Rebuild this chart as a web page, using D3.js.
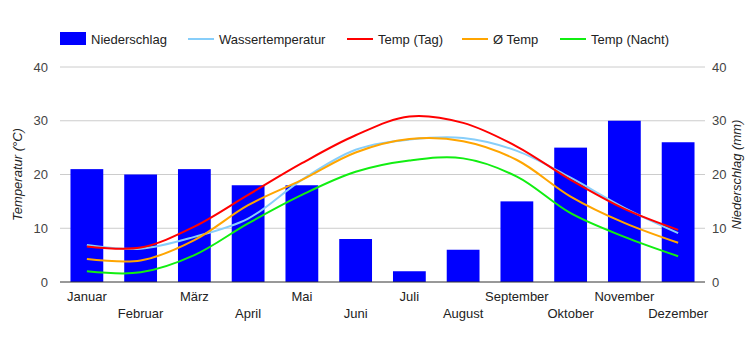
<!DOCTYPE html>
<html>
<head>
<meta charset="utf-8">
<script src="https://cdn.jsdelivr.net/npm/d3@7"></script>
<style>
  body { margin: 0; background: #fff; }
  text { font-family: "Liberation Sans", Arial, sans-serif; }
</style>
</head>
<body>
<div id="chart"></div>
<script>
// data
const months = ["Januar", "Februar", "März", "April", "Mai", "Juni", "Juli", "August", "September", "Oktober", "November", "Dezember"];
const niederschlag = [21, 20, 21, 18, 18, 8, 2, 6, 15, 25, 30, 26];
const wassertemp = [6.9, 6.2, 8.4, 11.8, 19.0, 24.6, 26.5, 26.8, 24.4, 19.4, 13.8, 9.1];
const tempTag = [6.6, 6.4, 10.3, 16.2, 22.1, 27.3, 30.8, 29.6, 25.2, 19.0, 13.6, 9.7];
const tempMittel = [4.3, 4.0, 7.8, 14.3, 19.0, 24.1, 26.6, 26.2, 22.7, 15.9, 11.0, 7.3];
const tempNacht = [2.0, 1.8, 5.0, 10.9, 16.2, 20.5, 22.6, 23.0, 19.6, 12.8, 8.4, 4.8];
const yTicks = [0, 10, 20, 30, 40];

const seriesList = [
  {name: "Wassertemperatur", values: wassertemp, color: "#87cefa"},
  {name: "Temp (Tag)", values: tempTag, color: "#ff0000"},
  {name: "Ø Temp", values: tempMittel, color: "#ffa500"},
  {name: "Temp (Nacht)", values: tempNacht, color: "#11ee11"}
];

const width = 750, height = 350;
const margin = {top: 67, right: 45, bottom: 68, left: 60};
const w = width - margin.left - margin.right;
const h = height - margin.top - margin.bottom;

const svg = d3.select("#chart").append("svg")
  .attr("width", width)
  .attr("height", height);

const g = svg.append("g")
  .attr("transform", "translate(" + margin.left + "," + margin.top + ")");

// scales
const x = d3.scaleBand()
  .domain(months)
  .range([0, w])
  .paddingInner(0.39)
  .paddingOuter(0.195);

const xc = d => x(d) + x.bandwidth() / 2;

const yL = d3.scaleLinear().domain([0, 40]).range([h, 0]);
const yR = d3.scaleLinear().domain([0, 40]).range([h, 0]);

// gridlines
g.selectAll(".grid")
  .data(yTicks.slice(1))
  .enter().append("line")
  .attr("x1", 0).attr("x2", w)
  .attr("y1", d => yL(d)).attr("y2", d => yL(d))
  .attr("stroke", "#cccccc")
  .attr("stroke-width", 1);

// left axis labels
g.selectAll(".ylab")
  .data(yTicks)
  .enter().append("text")
  .attr("x", -12)
  .attr("y", d => yL(d))
  .attr("dy", "0.35em")
  .attr("text-anchor", "end")
  .attr("font-size", 13)
  .attr("fill", "#444")
  .text(d => d);

// right axis labels
g.selectAll(".yrlab")
  .data(yTicks)
  .enter().append("text")
  .attr("x", w + 7)
  .attr("y", d => yR(d))
  .attr("dy", "0.35em")
  .attr("text-anchor", "start")
  .attr("font-size", 13)
  .attr("fill", "#444")
  .text(d => d);

// bars
g.selectAll(".bar")
  .data(months)
  .enter().append("rect")
  .attr("x", d => x(d))
  .attr("width", x.bandwidth())
  .attr("y", (d, i) => yR(niederschlag[i]))
  .attr("height", (d, i) => h - yR(niederschlag[i]))
  .attr("fill", "#0000ff");

// baseline
g.append("line")
  .attr("x1", 0).attr("x2", w)
  .attr("y1", h).attr("y2", h)
  .attr("stroke", "#333")
  .attr("stroke-width", 1);

// lines
const line = d3.line()
  .curve(d3.curveCatmullRom.alpha(0.5))
  .x((d, i) => xc(months[i]))
  .y(d => yL(d));

seriesList.forEach(s => {
  g.append("path")
    .datum(s.values)
    .attr("fill", "none")
    .attr("stroke", s.color)
    .attr("stroke-width", 2)
    .attr("d", line);
});

// x labels, alternating rows
g.selectAll(".xlab")
  .data(months)
  .enter().append("text")
  .attr("x", d => xc(d))
  .attr("y", (d, i) => h + (i % 2 === 0 ? 19 : 36))
  .attr("text-anchor", "middle")
  .attr("font-size", 13)
  .attr("fill", "#222")
  .text(d => d);

// axis titles
svg.append("text")
  .attr("transform", "translate(22," + (margin.top + h / 2) + ") rotate(-90)")
  .attr("text-anchor", "middle")
  .attr("font-size", 13)
  .attr("font-style", "italic")
  .attr("fill", "#222")
  .text("Temperatur (°C)");

svg.append("text")
  .attr("transform", "translate(741," + (margin.top + h / 2) + ") rotate(-90)")
  .attr("text-anchor", "middle")
  .attr("font-size", 13)
  .attr("font-style", "italic")
  .attr("fill", "#222")
  .text("Niederschlag (mm)");

// legend
const legend = svg.append("g").attr("transform", "translate(0,39)");
legend.append("rect")
  .attr("x", 60).attr("y", -7)
  .attr("width", 26).attr("height", 13)
  .attr("fill", "#0000ff");
legend.append("text")
  .attr("x", 91).attr("y", 0).attr("dy", "0.35em")
  .attr("font-size", 13).attr("fill", "#222")
  .text("Niederschlag");

const legendX = [188, 347, 462, 560];
seriesList.forEach((s, i) => {
  legend.append("line")
    .attr("x1", legendX[i]).attr("x2", legendX[i] + 26)
    .attr("y1", 0).attr("y2", 0)
    .attr("stroke", s.color)
    .attr("stroke-width", 2);
  legend.append("text")
    .attr("x", legendX[i] + 31).attr("y", 0).attr("dy", "0.35em")
    .attr("font-size", 13).attr("fill", "#222")
    .text(s.name);
});
</script>
</body>
</html>
